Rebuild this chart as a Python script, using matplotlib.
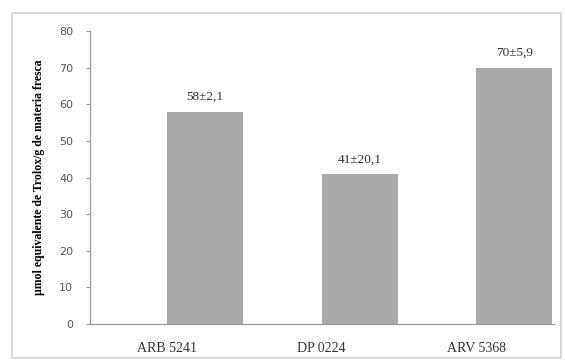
import matplotlib.pyplot as plt
from matplotlib.patches import Rectangle

categories = ['ARB 5241', 'DP 0224', 'ARV 5368']
values = [58, 41, 70]
errors = ['2,1', '20,1', '5,9']
yticks = [0, 10, 20, 30, 40, 50, 60, 70, 80]

fig = plt.figure(figsize=(5.65, 3.62), dpi=100)
ax = fig.add_axes([0.159, 0.105, 0.821, 0.809])

# outer chart border
fig.patches.append(Rectangle((0.021, 0.011), 0.972, 0.953, transform=fig.transFigure,
                             fill=False, edgecolor='#d4d4d4', linewidth=1.2))

x = list(range(len(categories)))
bars = ax.bar(x, values, width=0.49, align='edge', color='#aaaaaa', edgecolor='none')

for b, v, e in zip(bars, values, errors):
    ax.text(b.get_x() + b.get_width() / 2, v + 4, f'{v}\u00b1{e}',
            ha='center', va='center', fontsize=9.5, family='Liberation Serif', color='#333333')

ax.set_xlim(-0.5, 2.5)
ax.set_ylim(0, 80)
ax.set_xticks(x)
ax.set_xticklabels(categories, family='Liberation Serif', fontsize=10, color='#333333')
ax.set_yticks(yticks)
ax.set_yticklabels([str(t) for t in yticks], family='DejaVu Sans', fontsize=8, color='#555555')
ax.tick_params(axis='x', length=0, pad=13)
ax.tick_params(axis='y', length=3, color='#999999', pad=9)

for s in ['top', 'right']:
    ax.spines[s].set_visible(False)
for s in ['left', 'bottom']:
    ax.spines[s].set_color('#999999')
    ax.spines[s].set_linewidth(0.9)

ax.set_ylabel('\u00b5mol equivalente de Trolox/g de materia fresca', family='Liberation Serif',
              fontsize=8.5, fontweight='bold', labelpad=10)

fig.savefig('out.png', dpi=100)
